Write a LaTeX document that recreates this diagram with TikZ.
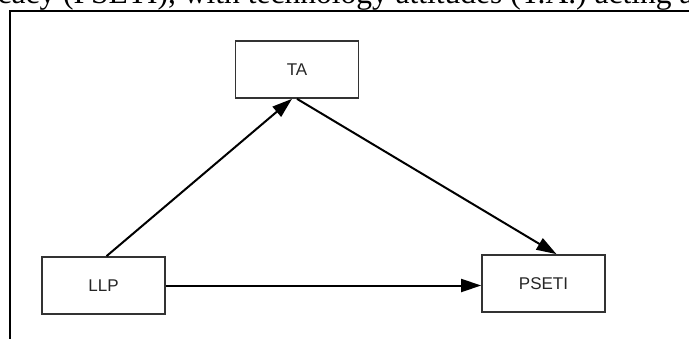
\documentclass[tikz,border=0pt]{standalone}
\usepackage{fontspec}
\setmainfont{Liberation Serif}
\setsansfont{Liberation Sans}
\usetikzlibrary{arrows.meta}

\begin{document}
\begin{tikzpicture}[
x=1pt, y=-1pt,
var/.style={
    draw=black!80,
    line width=1.7pt,
    minimum width=123pt,
    minimum height=57pt,
    font=\sffamily\fontsize{17}{20}\selectfont,
    text=black!85
    },
path/.style={
    line width=2pt,
    -{Triangle[length=20pt,width=13pt]}
    }
]
\useasboundingbox (0,0) rectangle (689,338);
\clip (0,0) rectangle (689,338);

\node[anchor=base west, inner sep=0, font=\fontsize{31.5}{35}\selectfont] (caption) at (63,3) {\llap{self-efficacy }(PSETI), with technology attitudes (T.A.) acting as a mediator};
\draw[line width=2.4pt] (10,350) |- (700,11);

\node[var] (ta) at (297,69.5) {TA};
\node[var] (llp) at (103.5,285.5) {LLP};
\node[var] (pseti) at (543.5,283.5) {PSETI};

\draw[path] ([xshift=3pt]llp.north) -- ([xshift=-5pt]ta.south);
\draw[path] (ta.south) -- ([xshift=13pt]pseti.north);
\draw[path] (llp.east) -- (llp.east -| pseti.west);

\end{tikzpicture}
\end{document}
